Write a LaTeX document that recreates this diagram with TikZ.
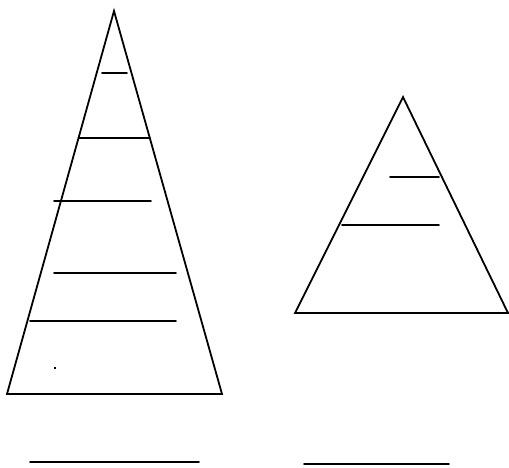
\documentclass[tikz,border=0pt]{standalone}
\usepackage{tikz}
\usetikzlibrary{calc}
\tikzset{
    sketch/.style={x=1pt, y=-1pt, line cap=round, line join=miter},
    pyramid/.style={draw=black, line width=1.8pt},
    rung/.style={draw=black, line width=1.8pt},
    blank/.style={draw=black, line width=1.8pt},
}

\begin{document}
\begin{tikzpicture}[sketch]
\useasboundingbox (0,0) rectangle (509,467);

% ─── Grande pyramide ────────────────────────────────────────────────────
\coordinate (bigtop)   at (114,11);
\coordinate (bigleft)  at (7,394);
\coordinate (bigright) at (222,394);
\draw[pyramid] (bigtop) -- (bigleft) -- (bigright) -- cycle;

% niveaux (y, x gauche, x droite)
\foreach \y/\xa/\xb in {73/102/127, 138/79/150, 201/54/151, 273/54/176, 321/30/176}{
    \draw[rung] (\xa,\y) -- (\xb,\y);
}
\fill (54,367) rectangle (56,369);

% ─── Petite pyramide ────────────────────────────────────────────────────
\coordinate (smalltop)   at (403,97);
\coordinate (smallleft)  at (295,313);
\coordinate (smallright) at (508,313);
\draw[pyramid] (smalltop) -- (smallleft) -- (smallright) -- cycle;

\foreach \y/\xa/\xb in {177/390/439, 225/342/439}{
    \draw[rung] (\xa,\y) -- (\xb,\y);
}

% ─── Lignes de réponse ──────────────────────────────────────────────────
\draw[blank] (30,462) -- (199,462);
\draw[blank] (304,464) -- (449,464);

\end{tikzpicture}
\end{document}
